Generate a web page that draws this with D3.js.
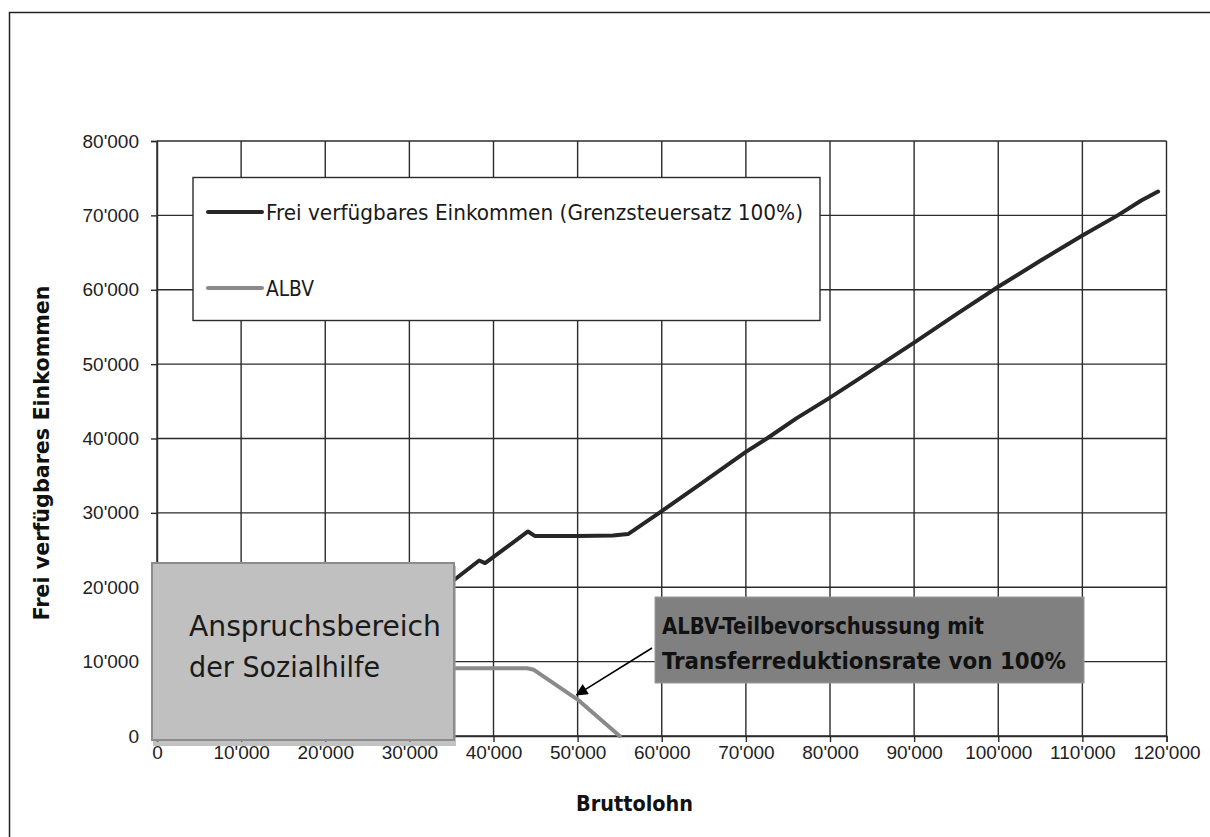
<!DOCTYPE html>
<html>
<head>
<meta charset="utf-8">
<script src="https://cdn.jsdelivr.net/npm/d3@7"></script>
<style>
  html, body { margin: 0; padding: 0; background: #fff; }
  svg { display: block; }
</style>
</head>
<body>
<svg id="chart" width="1210" height="837"></svg>
<script>
// Gross wage (Bruttolohn) vs. disposable income, ALBV partial advance
const xTicks = [0, 10000, 20000, 30000, 40000, 50000, 60000, 70000, 80000, 90000, 100000, 110000, 120000];
const yTicks = [0, 10000, 20000, 30000, 40000, 50000, 60000, 70000, 80000];

// Frei verfügbares Einkommen (Grenzsteuersatz 100%): [Bruttolohn, Einkommen]
const incomeSeries = [
  [35000, 20700], [38300, 23600], [39000, 23250], [44100, 27500], [44900, 26900],
  [50000, 26900], [54200, 26950], [56000, 27150], [59700, 30000], [64500, 33800],
  [70000, 38200], [72500, 40000], [76000, 42700], [80000, 45500], [83200, 47850],
  [90000, 52900], [95000, 56700], [100000, 60400], [105000, 63900], [110000, 67300],
  [114200, 70000], [117000, 72000], [119000, 73200]
];

// ALBV: [Bruttolohn, Betrag]
const albvSeries = [
  [35000, 9100], [44000, 9100], [44800, 8900], [50000, 4900], [55000, 0]
];

const legendLabels = ["Frei verfügbares Einkommen (Grenzsteuersatz 100%)", "ALBV"];
const socialBoxLines = ["Anspruchsbereich", "der Sozialhilfe"];
const noteLines = ["ALBV-Teilbevorschussung mit", "Transferreduktionsrate von 100%"];
const arrowTarget = [50000, 5000];

const fmt = v => v === 0 ? "0" : d3.format(",")(v).replace(/,/g, "'");

const svg = d3.select("#chart");
const x = d3.scaleLinear().domain([0, 120000]).range([157, 1166.5]);
const y = d3.scaleLinear().domain([0, 80000]).range([736, 141]);

const condensed = "'DejaVu Sans Condensed', 'DejaVu Sans', sans-serif";
const tickFont = "'Liberation Sans', Arial, sans-serif";

// outer frame
svg.append("rect").attr("x", 9.5).attr("y", 12.5).attr("width", 1215).attr("height", 840)
  .attr("fill", "none").attr("stroke", "#222").attr("stroke-width", 1.5);

// gridlines
const grid = svg.append("g");
grid.selectAll("line.v").data(xTicks).join("line")
  .attr("x1", d => x(d)).attr("x2", d => x(d)).attr("y1", y(80000)).attr("y2", y(0))
  .attr("stroke", "#2b2b2b").attr("stroke-width", 1.4);
grid.selectAll("line.h").data(yTicks).join("line")
  .attr("x1", x(0)).attr("x2", x(120000)).attr("y1", d => y(d)).attr("y2", d => y(d))
  .attr("stroke", "#2b2b2b").attr("stroke-width", 1.4);

// axes
const xAxis = svg.append("g").attr("transform", `translate(0,${y(0)})`)
  .call(d3.axisBottom(x).tickValues(xTicks).tickFormat(fmt).tickSize(6).tickPadding(4));
const yAxis = svg.append("g").attr("transform", `translate(${x(0)},0)`)
  .call(d3.axisLeft(y).tickValues(yTicks).tickFormat(fmt).tickSize(6).tickPadding(12));
[xAxis, yAxis].forEach(a => {
  a.select(".domain").attr("stroke", "#2b2b2b").attr("stroke-width", 1.4);
  a.selectAll(".tick line").attr("stroke", "#2b2b2b").attr("stroke-width", 1.4);
  a.selectAll("text").attr("font-family", tickFont).attr("font-size", 19).attr("fill", "#222");
});

// series lines
const line = d3.line().x(d => x(d[0])).y(d => y(d[1]));
svg.append("path").datum(albvSeries).attr("d", line)
  .attr("fill", "none").attr("stroke", "#8a8a8a").attr("stroke-width", 4)
  .attr("stroke-linejoin", "round").attr("stroke-linecap", "round");
svg.append("path").datum(incomeSeries).attr("d", line)
  .attr("fill", "none").attr("stroke", "#262626").attr("stroke-width", 4)
  .attr("stroke-linejoin", "round").attr("stroke-linecap", "round");

// legend
const lg = svg.append("g");
lg.append("rect").attr("x", 193).attr("y", 177.5).attr("width", 627).attr("height", 143)
  .attr("fill", "#fff").attr("stroke", "#2b2b2b").attr("stroke-width", 1.4);
const legendColors = ["#262626", "#8a8a8a"];
const legendY = [212, 288];
const legendWidths = [537, 48];
legendLabels.forEach((t, i) => {
  lg.append("line").attr("x1", 208).attr("x2", 262).attr("y1", legendY[i]).attr("y2", legendY[i])
    .attr("stroke", legendColors[i]).attr("stroke-width", 4).attr("stroke-linecap", "round");
  lg.append("text").attr("x", 266).attr("y", legendY[i] + 8)
    .attr("font-family", condensed).attr("font-size", 22).attr("fill", "#1a1a1a")
    .attr("textLength", legendWidths[i]).attr("lengthAdjust", "spacingAndGlyphs").text(t);
});

// social assistance box (with shadow)
svg.append("rect").attr("x", 153).attr("y", 566).attr("width", 303).attr("height", 180)
  .attr("fill", "#9a9a9a").attr("opacity", 0.6);
svg.append("rect").attr("x", 152).attr("y", 563).attr("width", 302).attr("height", 177)
  .attr("fill", "#c0c0c0").attr("stroke", "#8c8c8c").attr("stroke-width", 2);
const sbWidths = [252, 191];
socialBoxLines.forEach((t, i) => {
  svg.append("text").attr("x", 189).attr("y", 636 + i * 41)
    .attr("font-family", condensed).attr("font-size", 28).attr("fill", "#1a1a1a")
    .attr("textLength", sbWidths[i]).attr("lengthAdjust", "spacingAndGlyphs").text(t);
});

// arrow to ALBV reduction
svg.append("defs").append("marker").attr("id", "arrowhead")
  .attr("viewBox", "0 0 10 10").attr("refX", 9).attr("refY", 5)
  .attr("markerWidth", 18).attr("markerHeight", 12).attr("markerUnits", "userSpaceOnUse")
  .attr("orient", "auto")
  .append("path").attr("d", "M0,0 L10,5 L0,10 Z").attr("fill", "#000");
svg.append("line").attr("x1", 652).attr("y1", 648)
  .attr("x2", x(arrowTarget[0]) - 1).attr("y2", y(arrowTarget[1]) - 4)
  .attr("stroke", "#000").attr("stroke-width", 1.6).attr("marker-end", "url(#arrowhead)");

// note box
svg.append("rect").attr("x", 655).attr("y", 597).attr("width", 429).attr("height", 86)
  .attr("fill", "#808080").attr("stroke", "#9a9a9a").attr("stroke-width", 1);
const noteWidths = [322, 404];
noteLines.forEach((t, i) => {
  svg.append("text").attr("x", 662).attr("y", 634 + i * 35)
    .attr("font-family", condensed).attr("font-weight", "bold").attr("font-size", 23)
    .attr("fill", "#111").attr("textLength", noteWidths[i]).attr("lengthAdjust", "spacingAndGlyphs").text(t);
});

// axis titles
svg.append("text").attr("x", 634.5).attr("y", 811).attr("text-anchor", "middle")
  .attr("font-family", condensed).attr("font-weight", "bold").attr("font-size", 22).attr("fill", "#111")
  .attr("textLength", 117).attr("lengthAdjust", "spacingAndGlyphs").text("Bruttolohn");
svg.append("text").attr("transform", "translate(49,453) rotate(-90)").attr("text-anchor", "middle")
  .attr("font-family", condensed).attr("font-weight", "bold").attr("font-size", 22).attr("fill", "#111")
  .attr("textLength", 335).attr("lengthAdjust", "spacingAndGlyphs").text("Frei verfügbares Einkommen");
</script>
</body>
</html>
